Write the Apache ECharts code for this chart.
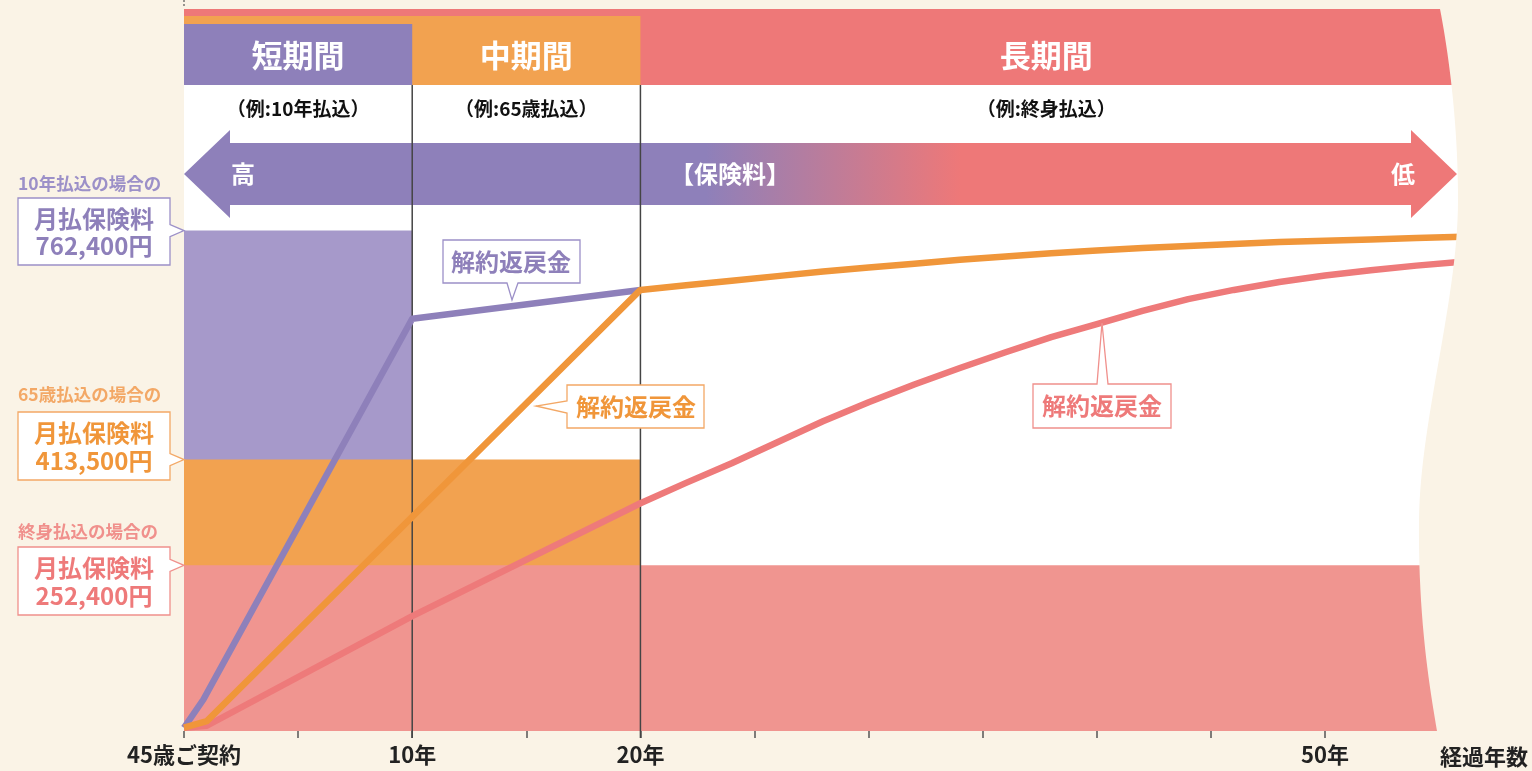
<!DOCTYPE html>
<html>
<head>
<meta charset="utf-8">
<script src="https://cdn.jsdelivr.net/npm/echarts@6/dist/echarts.min.js"></script>
<style>
html, body { margin: 0; padding: 0; background: #FAF3E6; }
#chart { width: 1532px; height: 771px; }
</style>
</head>
<body>
<div id="chart"></div>
<script>
// 経過年数（年）と解約返戻金（千円）
const purpleRefund = [[0, 5], [0.85, 48], [10, 628], [20, 672]];
const orangeRefund = [[0, 5], [1, 15], [20, 672], [22, 679], [24, 686], [26, 693], [28, 700], [30, 706], [32, 712], [34, 718], [36, 723], [38, 728], [40, 732], [42, 736], [44, 739], [46, 742], [48, 745], [50, 747], [52, 749], [54, 751], [56, 753]];
const pinkRefund = [[0, 5], [1, 8], [10, 175], [20, 347], [22, 378], [24, 408], [26, 440], [28, 472], [30, 501], [32, 528], [34, 553], [36, 577], [38, 600], [40, 620], [42, 640], [44, 658], [46, 672], [48, 684], [50, 694], [52, 702], [54, 709], [56, 715]];

// 月払保険料（千円）: [開始年, 終了年, 金額]
const premiumBars = [[0, 10, 762.4], [0, 20, 413.5], [0, 56, 252.4]];
const premiumCaptions = ['10年払込の場合の', '65歳払込の場合の', '終身払込の場合の'];
const premiumAmounts = ['762,400円', '413,500円', '252,400円'];

const periodNames = ['短期間', '中期間', '長期間'];
const periodExamples = ['（例:10年払込）', '（例:65歳払込）', '（例:終身払込）'];
const periodEnds = [10, 20, 56];

const xTickLabels = { 0: '45歳ご契約', 10: '10年', 20: '20年', 50: '50年' };

const FONT = '"Noto Sans CJK JP", sans-serif';
const purple = '#8E80BA', orange = '#F0963A', pink = '#EE7A7A';
const lineColors = [purple, orange, pink];
const barColors = ['#A699CA', '#F2A250', '#F09590'];
const bandColors = [purple, '#F2A250', '#EE7878'];
const boxStroke = ['#9C90C8', '#F3A866', '#F0908C'];

const chart = echarts.init(document.getElementById('chart'));

chart.setOption({
    backgroundColor: '#FAF3E6',
    animation: false,
    grid: { left: 184, right: 70, top: 9, bottom: 40, show: true, backgroundColor: '#ffffff', borderWidth: 0 },
    xAxis: {
        type: 'value', min: 0, max: 56, interval: 5,
        axisLine: { show: false },
        axisTick: { show: true, length: 7, lineStyle: { color: '#555', width: 1.5 } },
        splitLine: { show: false },
        axisLabel: {
            margin: 13, fontSize: 22, fontWeight: 'bold', color: '#222', fontFamily: FONT,
            formatter: function (v) { return xTickLabels[v] || ''; }
        }
    },
    yAxis: { type: 'value', min: 0, max: 1100, show: false },
    series: [
        {
            type: 'custom', z: 1,
            encode: { x: [0, 1], y: 2 },
            data: premiumBars,
            renderItem: function (params, api) {
                const p0 = api.coord([api.value(0), api.value(2)]);
                const p1 = api.coord([api.value(1), 0]);
                return {
                    type: 'rect',
                    shape: { x: p0[0], y: p0[1], width: p1[0] - p0[0], height: p1[1] - p0[1] },
                    style: { fill: barColors[params.dataIndex] }
                };
            }
        },
        { type: 'line', z: 3, data: pinkRefund, symbol: 'none', lineStyle: { color: pink, width: 6.5, join: 'round' } },
        { type: 'line', z: 3, data: purpleRefund, symbol: 'none', lineStyle: { color: purple, width: 6.5, join: 'round' } },
        { type: 'line', z: 3, data: orangeRefund, symbol: 'none', lineStyle: { color: orange, width: 6.5, join: 'round' } }
    ]
});

const px = (x, y) => chart.convertToPixel({ gridIndex: 0 }, [x, y]);
const x0 = px(0, 0)[0];
const yBase = px(0, 0)[1];
const g = [];

function txt(text, x, y, font, color, align, z) {
    g.push({
        type: 'text', z: z || 12,
        style: { text: text, x: x, y: y, font: font, fill: color, textAlign: align || 'center', textVerticalAlign: 'middle', align: align || 'center', verticalAlign: 'middle' }
    });
}

function bezier(p0, p1, p2, p3, n) {
    const out = [];
    for (let i = 1; i <= n; i++) {
        const t = i / n, u = 1 - t;
        out.push([
            u * u * u * p0[0] + 3 * u * u * t * p1[0] + 3 * u * t * t * p2[0] + t * t * t * p3[0],
            u * u * u * p0[1] + 3 * u * u * t * p1[1] + 3 * u * t * t * p2[1] + t * t * t * p3[1]
        ]);
    }
    return out;
}

// 上部の期間帯
const bandTops = [24, 16, 9];
for (let i = 2; i >= 0; i--) {
    const xe = i === 2 ? 1475 : px(periodEnds[i], 0)[0];
    g.push({ type: 'rect', z: 1, shape: { x: x0, y: bandTops[i], width: xe - x0, height: 85 - bandTops[i] }, style: { fill: bandColors[i] } });
}
const xs = [x0, px(10, 0)[0], px(20, 0)[0], 1452];
for (let i = 0; i < 3; i++) {
    const cx = (xs[i] + xs[i + 1]) / 2;
    txt(periodNames[i], cx, 55, 'bold 31px ' + FONT, '#fff');
    txt(periodExamples[i], cx, 109, 'bold 19px ' + FONT, '#111');
}

// 保険料の矢印
g.push({
    type: 'polygon', z: 1,
    shape: { points: [[x0, 174], [x0 + 46, 130], [x0 + 46, 143], [1411, 143], [1411, 130], [1457, 174], [1411, 218], [1411, 205], [x0 + 46, 205], [x0 + 46, 218]] },
    style: {
        fill: {
            type: 'linear', x: 0, y: 0, x2: 1, y2: 0,
            colorStops: [{ offset: 0, color: purple }, { offset: 0.41, color: purple }, { offset: 0.61, color: '#EE7878' }, { offset: 1, color: '#EE7878' }]
        }
    }
});
txt('高', 243, 174, 'bold 24px ' + FONT, '#fff');
txt('【保険料】', 730, 174, 'bold 24px ' + FONT, '#fff');
txt('低', 1403, 174, 'bold 24px ' + FONT, '#fff');

// 10年・20年の縦線
[10, 20].forEach(function (t) {
    const x = px(t, 0)[0];
    g.push({ type: 'line', z: 2, shape: { x1: x, y1: 85, x2: x, y2: yBase + 7 }, style: { stroke: '#444', lineWidth: 1.5 } });
});
g.push({ type: 'line', z: 2, shape: { x1: x0, y1: 0, x2: x0, y2: 8 }, style: { stroke: '#555', lineWidth: 1.2, lineDash: [2, 2] } });

// 右端の波形
let edge = [[1532, 0], [1440, 0], [1440, 9]];
edge = edge.concat(bezier([1440, 9], [1448, 50], [1458, 120], [1458, 200], 20));
edge = edge.concat(bezier([1458, 200], [1458, 300], [1420, 420], [1419, 520], 30));
edge = edge.concat(bezier([1419, 520], [1418, 620], [1430, 690], [1437, 731], 20));
edge = edge.concat([[1437, 745], [1532, 745]]);
g.push({ type: 'polygon', z: 10, shape: { points: edge }, style: { fill: '#FAF3E6' } });
txt('経過年数', 1484, 757, 'bold 22px ' + FONT, '#222');

// 左側の保険料ラベル
const capY = [183, 394, 531];
const boxY = [[198, 265], [412, 480], [547, 615]];
for (let i = 0; i < 3; i++) {
    const tipY = px(0, premiumBars[i][2])[1];
    const t = boxY[i][0], b = boxY[i][1];
    txt(premiumCaptions[i], 18, capY[i], 'bold 17.5px ' + FONT, boxStroke[i], 'left');
    g.push({
        type: 'polygon', z: 11,
        shape: { points: [[18, t], [170, t], [170, tipY - 6], [x0, tipY], [170, tipY + 6], [170, b], [18, b]] },
        style: { fill: '#fff', stroke: boxStroke[i], lineWidth: 1.3 }
    });
    txt('月払保険料', 94, t + 21, 'bold 24px ' + FONT, lineColors[i]);
    txt(premiumAmounts[i], 94, b - 19, 'bold 24px ' + FONT, lineColors[i]);
}

// 解約返戻金の吹き出し
g.push({ type: 'polygon', z: 11, shape: { points: [[443, 240], [580, 240], [580, 283], [518, 283], [512, 300], [507, 283], [443, 283]] }, style: { fill: '#fff', stroke: boxStroke[0], lineWidth: 1.3 } });
txt('解約返戻金', 511, 262, 'bold 24px ' + FONT, purple);
g.push({ type: 'polygon', z: 11, shape: { points: [[567, 385], [704, 385], [704, 428], [567, 428], [567, 413], [536, 406], [567, 401]] }, style: { fill: '#fff', stroke: boxStroke[1], lineWidth: 1.3 } });
txt('解約返戻金', 636, 407, 'bold 24px ' + FONT, orange);
g.push({ type: 'polygon', z: 11, shape: { points: [[1033, 384], [1097, 384], [1102, 323], [1108, 384], [1171, 384], [1171, 428], [1033, 428]] }, style: { fill: '#fff', stroke: boxStroke[2], lineWidth: 1.3 } });
txt('解約返戻金', 1102, 406, 'bold 24px ' + FONT, pink);

chart.setOption({ graphic: { elements: g } });
</script>
</body>
</html>
